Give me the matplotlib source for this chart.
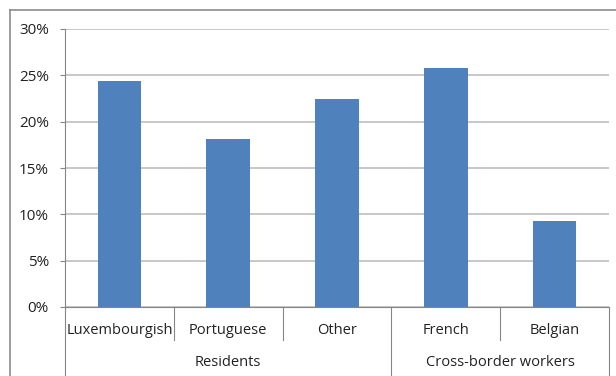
import matplotlib
matplotlib.use("Agg")
import matplotlib.pyplot as plt
import matplotlib.transforms as mtransforms
from matplotlib.lines import Line2D

categories = ["Luxembourgish", "Portuguese", "Other", "French", "Belgian"]
values = [24.4, 18.1, 22.4, 25.8, 9.3]
groups = ["Residents", "Cross-border workers"]
group_sizes = [3, 2]
yticks = [0, 5, 10, 15, 20, 25, 30]
ytick_labels = ["0%", "5%", "10%", "15%", "20%", "25%", "30%"]

plt.rcParams["font.family"] = ["Open Sans", "DejaVu Sans"]
W, H = 616, 376
fig = plt.figure(figsize=(W / 100, H / 100), dpi=100)

ax = fig.add_axes([65 / W, 69 / H, 544 / W, 278 / H])
x = list(range(len(categories)))
ax.bar(x, values, width=0.4, color="#4F81BD", zorder=3)

ax.set_xlim(-0.5, len(categories) - 0.5)
ax.set_ylim(0, 30)
ax.set_yticks(yticks)
ax.set_yticklabels(ytick_labels, fontsize=11, color="#222222")
ax.set_xticks([])
ax.yaxis.grid(True, color="#BFBFBF", linewidth=1.2, zorder=0)
for s in ["top", "right"]:
    ax.spines[s].set_visible(False)
ax.spines["left"].set_color("#868686")
ax.spines["bottom"].set_color("#868686")
ax.tick_params(axis="y", length=3.6, width=0.8, color="#868686", pad=8)

trans = mtransforms.blended_transform_factory(ax.transData, ax.transAxes)
y_cat_bottom = -33 / 278
y_bottom = -69 / 278
line_kw = dict(color="#868686", linewidth=0.8, transform=trans, clip_on=False)

# category labels
for xi, name in zip(x, categories):
    ax.text(xi, -23.5 / 278, name, transform=trans, ha="center", va="center",
            fontsize=10.5, color="#222222")

# left axis extended to bottom
ax.add_line(Line2D([-0.5, -0.5], [0, y_bottom], **line_kw))
# separators between categories and groups
start = 0
bounds = []
for g in group_sizes:
    bounds.append((start, start + g))
    start += g
for (a, b) in bounds:
    for k in range(a + 1, b):
        ax.add_line(Line2D([k - 0.5, k - 0.5], [0, y_cat_bottom], **line_kw))
for (a, b) in bounds[:-1]:
    ax.add_line(Line2D([b - 0.5, b - 0.5], [0, y_bottom], **line_kw))
ax.add_line(Line2D([len(categories) - 0.5] * 2, [0, y_bottom], **line_kw))

for (a, b), gname in zip(bounds, groups):
    ax.text((a + b - 1) / 2, -56 / 278, gname, transform=trans, ha="center",
            va="center", fontsize=10.5, color="#222222")

# outer frame
fig.add_artist(Line2D([9.5 / W, 1], [1 - 9.5 / H] * 2, color="#8C8C8C",
                      linewidth=1.2, transform=fig.transFigure))
fig.add_artist(Line2D([9.5 / W] * 2, [0, 1 - 9.5 / H], color="#8C8C8C",
                      linewidth=1.2, transform=fig.transFigure))

fig.savefig("out.png", dpi=100)
